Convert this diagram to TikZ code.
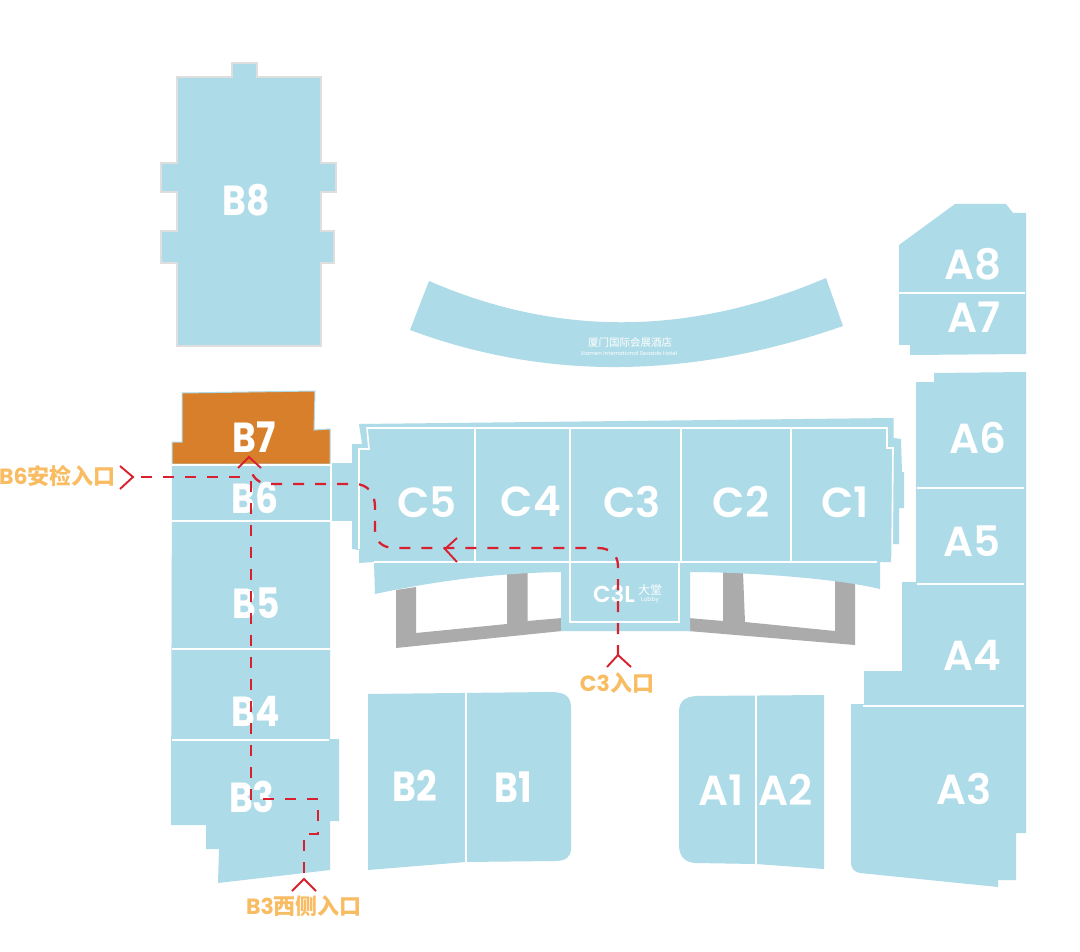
\documentclass[tikz,border=0pt]{standalone}
\usepackage{fontspec}
\setmainfont{Poppins}
\newfontfamily\hallfont{Poppins SemiBold}
\newfontfamily\cjk{Noto Sans CJK SC}
\usetikzlibrary{calc}

\definecolor{hallblue}{HTML}{AEDBE8}
\definecolor{hallorange}{HTML}{D87F2C}
\definecolor{routered}{HTML}{D9202E}
\definecolor{gatelabel}{HTML}{F8BC62}
\definecolor{walkgrey}{HTML}{ABABAB}
\tikzset{
	hall/.style = {fill=hallblue, draw=none},
	walk/.style = {fill=walkgrey, draw=none},
	divider/.style = {draw=white, line width=1.6pt},
	route/.style = {draw=routered, line width=2.3pt, dash pattern=on 11pt off 11pt},
	chevron/.style = {draw=routered, line width=1.9pt},
	hallname/.style = {text=white, inner sep=0pt, font=\fontsize{42}{42}\selectfont\hallfont},
	bhallname/.style = {text=white, inner sep=0pt, font=\fontsize{42}{42}\selectfont\bfseries, xscale=0.86, transform shape},
	gatename/.style = {text=gatelabel, inner sep=0pt, font=\fontsize{22}{22}\selectfont\bfseries}
}

\begin{document}
\begin{tikzpicture}[x=1pt,y=-1pt]
		\useasboundingbox (0,0) rectangle (1080,952);
		\fill[white] (0,0) rectangle (1080,952);

		% B8
		\draw[hall, draw=black!13, line width=1.5pt] (232,63) -- (257,63) -- (257,77) -- (321,77) -- (321,163) -- (336,163) -- (336,192) -- (321,192) -- (321,231) -- (334,231) -- (334,263) -- (321,263) -- (321,346) -- (177,346) -- (177,263) -- (161,263) -- (161,231) -- (177,231) -- (177,192) -- (161,192) -- (161,163) -- (177,163) -- (177,77) -- (232,77) -- cycle;

		% B7
		\draw[fill=hallorange, draw=hallblue, line width=1pt] (182,393) -- (315,391) -- (314,430) -- (330,429) -- (330,464) -- (172,464) -- (172,442) -- (182,442) -- cycle;

		% B6 to B3
		\fill[hall] (172,464) -- (330,464) -- (330,739) -- (339,739) -- (339,821) -- (330,821) -- (330,870) -- (218,883) -- (219,849) -- (206,849) -- (206,825) -- (171,825) -- cycle;
		\fill[hall] (332,463) -- (352,463) -- (352,521) -- (332,521) -- cycle;
		\draw[divider] (172,465) -- (331,465) -- (331,521) -- (172,521);
		\draw[divider] (172,649) -- (330,649);
		\draw[divider] (172,740) -- (329,740);

		% B2 B1
		\fill[hall] (368,694) -- (550,692) .. controls (565,692) and (571,696) .. (571,708) -- (571,848) .. controls (571,857) and (566,861) .. (555,861) -- (466,862) -- (368,870) -- cycle;
		\draw[divider] (466,693) -- (466,862);

		% A1 A2
		\fill[hall] (679,712) .. controls (679,701) and (685,697) .. (696,696) -- (824,695) -- (824,869) -- (756,864) -- (695,863) .. controls (684,862) and (679,856) .. (679,844) -- cycle;
		\draw[divider] (756,695) -- (756,864);

		% A3 to A6
		\fill[hall] (934,373) -- (1026,372) -- (1026,833) -- (1016,833) -- (1016,880) -- (998,880) -- (998,887) -- (860,873) .. controls (854,872) and (851,868) .. (851,863) -- (851,704) -- (864,704) -- (864,671) -- (902,671) -- (902,582) -- (916,582) -- (916,382) -- (934,382) -- cycle;
		\draw[divider] (917,488) -- (1024,488);
		\draw[divider] (917,584) -- (1024,584);
		\draw[divider] (863,706) -- (1024,706);

		% A7 A8
		\fill[hall] (899,245) -- (955,204) -- (1006,204) -- (1013,213) -- (1026,213) -- (1026,354) -- (910,355) -- (910,345) -- (899,345) -- cycle;
		\draw[divider] (899,293) -- (1025,293);

		% hotel
		\fill[hall] (429,281) .. controls (558,337) and (690,336) .. (826,278) -- (843,326) .. controls (691,379) and (547,381) .. (410,330) -- cycle;

		% walkways under C
		\fill[walk] (396,590) -- (416,587) -- (416,633) -- (507,624) -- (507,573) -- (527.5,572) -- (527.5,621) -- (562,618) -- (562,631) -- (396,648) -- cycle;
		\fill[walk] (688,618) -- (723,621) -- (723,572) -- (743,572) -- (745,622) -- (835,631) -- (835,580) -- (855,583) -- (855,645) -- (688,631) -- cycle;

		% C block
		\fill[hall] (359,424) -- (893.5,418) -- (893.5,438) -- (901,439) -- (902,472) -- (904,472) -- (904,508) -- (899,508) -- (899,544) -- (893,544) -- (892,562) -- (880,562) -- (880,589) .. controls (835,578) and (743,572) .. (690,572) -- (690,631) -- (561,631) -- (561,572) .. controls (500,573) and (440,580) .. (375,594) -- (374,562) -- (359,563) -- (359,550) -- (352,549) -- (352,444) -- (362,444) -- cycle;
		\draw[divider] (359,549) -- (359,449) -- (369,449) -- (367,428) -- (887,428) -- (887,448) -- (893,448) -- (892,562);
		\draw[divider] (374,562) -- (877,562);
		\foreach \xpos in {475,570,681,791}
			\draw[divider] (\xpos,428) -- (\xpos,562);
		\draw[divider] (570,562) -- (570,622) -- (679,622) -- (679,562);

		% hall labels
		\draw (246,200) node[bhallname] (b8){B8}
		(254,437) node[bhallname] (b7){B7}
		(255,498) node[bhallname] (b6){B6}
		(256,603) node[bhallname] (b5){B5}
		(256,711) node[bhallname] (b4){B4}
		(252,797) node[bhallname] (b3){B3}
		(415,786) node[bhallname] (b2){B2}
		(513,787) node[bhallname] (b1){B1}
		(427,502) node[hallname] (c5){C5}
		(531,502) node[hallname] (c4){C4}
		(632,502) node[hallname] (c3){C3}
		(741,502) node[hallname] (c2){C2}
		(845,502) node[hallname] (c1){C1}
		(721,790) node[hallname] (a1){A1}
		(786,790) node[hallname] (a2){A2}
		(964,789) node[hallname] (a3){A3}
		(972,655) node[hallname] (a4){A4}
		(972,541) node[hallname] (a5){A5}
		(978,438) node[hallname] (a6){A6}
		(974,317) node[hallname] (a7){A7}
		(973,264) node[hallname] (a8){A8};

		\node[text=white, inner sep=0pt, font=\fontsize{23}{23}\selectfont\hallfont] (c3l) at (614,594) {C3L};
		\node[text=white, inner sep=0pt, font=\fontsize{12}{12}\selectfont\cjk] (lobbycn) at (650,590) {大堂};
		\node[text=white, inner sep=0pt, font=\fontsize{6}{6}\selectfont] (lobbyen) at (650,600) {Lobby};
		\node[text=white, inner sep=0pt, font=\fontsize{10.5}{10.5}\selectfont\cjk] (hotelcn) at (630,343) {厦门国际会展酒店};
		\node[text=white, inner sep=0pt, font=\fontsize{5.5}{5.5}\selectfont] (hotelen) at (629,353) {Xiamen International Seaside Hotel};

		% entrance labels
		\node[gatename, anchor=west] (gateb6) at (-1,476) {B6{\cjk 安检入口}};
		\node[gatename, anchor=center] (gatec3) at (617,683) {C3{\cjk 入口}};
		\node[gatename, anchor=center] (gateb3) at (304,906) {B3{\cjk 西侧入口}};

		% routes
		\coordinate (tipb6) at (133,477);
		\coordinate (tipb7) at (249,457);
		\coordinate (tipc3) at (618,655);
		\coordinate (tipb3) at (304,879);
		\coordinate (tipc5) at (445,549);

		\draw[route] (141,477) -- (248,477);
		\draw[route] (618,656) -- (618,566) .. controls (618,555) and (610,548) .. (598,548) -- (395,548) .. controls (382,548) and (375,541) .. (375,530) -- (375,507) .. controls (375,494) and (368,484) .. (355,484) -- (270,484) .. controls (258,484) and (252,477) .. (250,467);
		\draw[route] (304,873) -- (304,834) -- (318,834) -- (318,799) -- (251,799) -- (251,470);

		\draw[chevron] ($(tipb6)+(-13,-11)$) -- (tipb6) -- ($(tipb6)+(-13,12)$);
		\draw[chevron] ($(tipb7)+(-11,11)$) -- (tipb7) -- ($(tipb7)+(12,11)$);
		\draw[chevron] ($(tipc3)+(-11,12)$) -- (tipc3) -- ($(tipc3)+(13,12)$);
		\draw[chevron] ($(tipb3)+(-12,12)$) -- (tipb3) -- ($(tipb3)+(12,12)$);
		\draw[chevron] ($(tipc5)+(12,-11)$) -- (tipc5) -- ($(tipc5)+(12,13)$);
\end{tikzpicture}
\end{document}
